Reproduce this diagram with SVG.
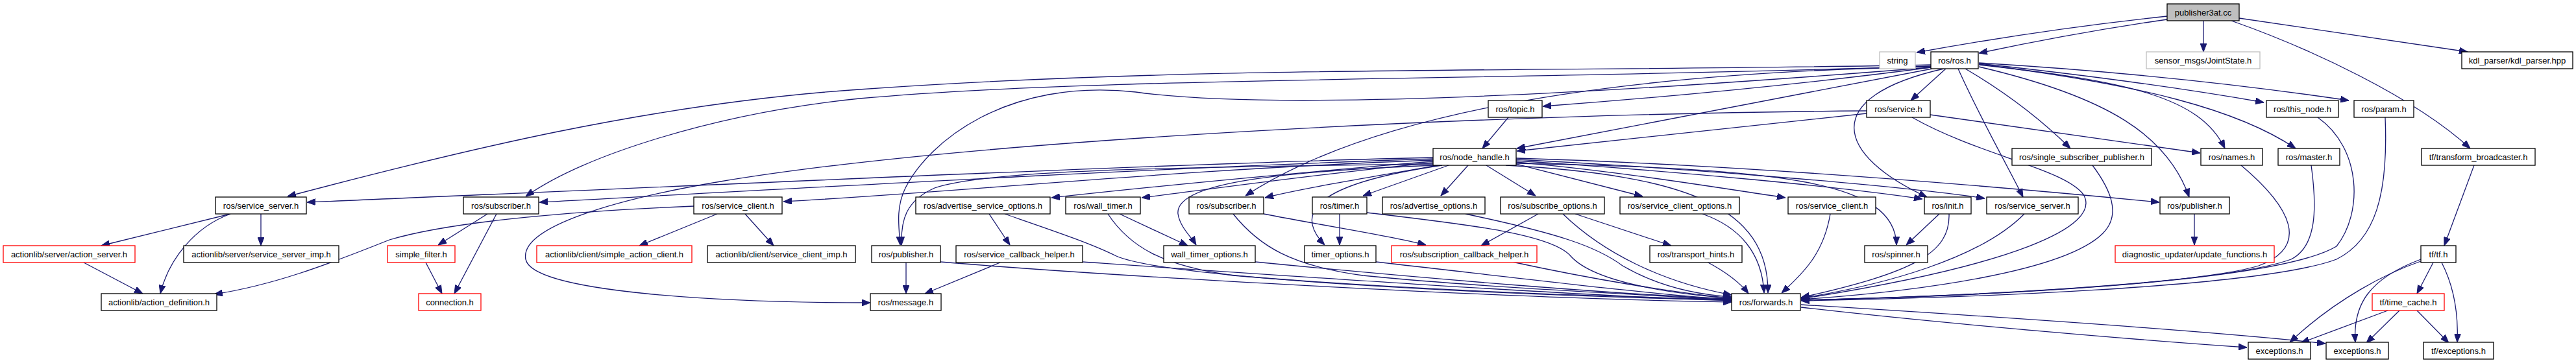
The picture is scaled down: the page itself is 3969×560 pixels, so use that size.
<svg xmlns="http://www.w3.org/2000/svg" width="3969" height="560" viewBox="0 0 3969 560">
<style>
rect{fill:#fff;stroke:#000;stroke-width:1.3}
rect.ext{stroke:#bfbfbf}
rect.trunc{stroke:#ff0000}
rect.root{fill:#bfbfbf}
text{font-family:"Liberation Sans",Arial,Helvetica,sans-serif;font-size:13px;text-anchor:middle;fill:#000}
#edges path{fill:none;stroke:#191970;stroke-width:1.3;marker-end:url(#arr)}
</style>
<defs>
<marker id="arr" markerUnits="userSpaceOnUse" markerWidth="13" markerHeight="10" viewBox="0 0 13 10" refX="13" refY="5" orient="auto">
<path d="M0,0 L13,5 L0,10 z" fill="#191970" stroke="#191970" stroke-width="1"/>
</marker>
</defs>
<rect x="0" y="0" width="3969" height="560" style="fill:#fff;stroke:none"/>
<g id="edges">
<path d="M3339,25 Q3150,45 2953,81"/>
<path d="M3339,30 Q3200,50 3049,82"/>
<path d="M3395,32 L3395,80"/>
<path d="M3450,28 L3802,80"/>
<path d="M3438,32 C3560,75 3720,150 3806,229"/>
<path d="M2975,104 Q2700,140 2377,164"/>
<path d="M2977,106 L2337,229"/>
<path d="M2998,106 L2944,155"/>
<path d="M2995,106 C2800,150 2830,240 2969,304"/>
<path d="M3017,106 C3050,180 3090,250 3117,304"/>
<path d="M3028,106 Q3120,160 3190,229"/>
<path d="M3049,103 C3250,150 3340,210 3373,304"/>
<path d="M3049,100 C3280,125 3390,150 3428,229"/>
<path d="M3049,99 C3300,130 3450,170 3537,229"/>
<path d="M3049,98 Q3300,125 3488,158"/>
<path d="M3049,97 Q3350,115 3619,155"/>
<path d="M2975,100 C2400,112 1850,100 1324,138 C1000,160 700,235 443,303"/>
<path d="M2975,102 C2300,125 1700,118 1324,152 C1100,175 900,240 810,303"/>
<path d="M2975,104 C2400,150 1950,170 1750,142 C1550,120 1430,220 1395,290 C1380,320 1385,350 1387,378"/>
<path d="M2975,103 C2600,110 2150,150 1919,302"/>
<path d="M2876,175 L2337,233"/>
<path d="M2876,171 C2300,175 1500,215 1110,280 C950,307 800,350 810,400 C820,450 1100,467 1341,467"/>
<path d="M2974,177 L3390,236"/>
<path d="M2946,181 C3050,240 3180,260 3210,300 C3240,350 3100,410 2775,461"/>
<path d="M3224,255 C3250,290 3270,330 3240,360 C3180,420 2950,450 2775,462"/>
<path d="M2324,181 L2284,229"/>
<path d="M2208,243 C1800,252 1000,290 473,312"/>
<path d="M2208,245 C1800,258 1200,292 831,312"/>
<path d="M2208,247 C1800,262 1500,295 1207,311"/>
<path d="M2208,249 C2050,262 1800,285 1620,305"/>
<path d="M2208,251 C2050,266 1880,290 1759,305"/>
<path d="M2210,253 C1800,258 1520,262 1440,290 C1395,310 1388,340 1389,378"/>
<path d="M2212,255 C1950,265 1810,285 1815,330 C1818,350 1835,365 1843,378"/>
<path d="M2216,255 C2100,275 2000,292 1949,305"/>
<path d="M2222,255 C2050,280 1985,320 2041,378"/>
<path d="M2232,255 L2100,302"/>
<path d="M2262,255 L2220,302"/>
<path d="M2290,255 L2366,302"/>
<path d="M2336,253 L2531,303"/>
<path d="M2336,250 C2500,265 2650,290 2751,305"/>
<path d="M2336,248 C2600,265 2850,290 2962,307"/>
<path d="M2336,246 C2650,262 2950,290 3058,306"/>
<path d="M2336,244 C2700,255 3100,290 3327,312"/>
<path d="M2336,252 C2750,260 2920,280 2922,378"/>
<path d="M2320,255 C2600,270 2725,320 2724,452"/>
<path d="M355,330 L156,379"/>
<path d="M402,330 L402,379"/>
<path d="M355,330 C300,350 260,400 247,453"/>
<path d="M129,405 L220,453"/>
<path d="M1069,318 C900,325 700,340 600,370 C500,410 420,440 330,454"/>
<path d="M1105,330 L985,379"/>
<path d="M1148,330 L1192,379"/>
<path d="M751,330 L675,378"/>
<path d="M765,330 L700,453"/>
<path d="M656,405 L681,453"/>
<path d="M1524,330 L1556,378"/>
<path d="M1548,330 C1620,355 1680,375 1720,395 C1800,430 2300,455 2668,463"/>
<path d="M1541,405 L1425,453"/>
<path d="M1668,404 C1900,420 2400,455 2668,464"/>
<path d="M1396,405 L1396,453"/>
<path d="M1449,404 C1700,425 2300,460 2668,466"/>
<path d="M1725,330 L1830,379"/>
<path d="M1707,330 C1740,380 1790,410 1900,425 C2200,450 2500,458 2668,462"/>
<path d="M1934,404 C2200,430 2500,455 2668,461"/>
<path d="M1900,330 C1940,380 1990,410 2100,425 C2300,445 2550,455 2668,463"/>
<path d="M1947,330 C2050,350 2150,365 2197,378"/>
<path d="M2064,330 L2064,378"/>
<path d="M2106,328 C2250,345 2390,360 2420,395 C2460,440 2600,455 2668,460"/>
<path d="M2120,404 C2350,430 2550,455 2668,462"/>
<path d="M2258,330 C2400,360 2460,380 2500,410 C2560,445 2620,455 2668,458"/>
<path d="M2370,330 L2282,379"/>
<path d="M2427,330 L2575,379"/>
<path d="M2408,330 C2470,390 2560,435 2668,455"/>
<path d="M2330,404 C2450,430 2580,452 2668,460"/>
<path d="M2623,330 C2680,350 2715,390 2718,452"/>
<path d="M2630,404 C2660,420 2680,435 2694,453"/>
<path d="M2820,330 C2810,390 2780,420 2745,452"/>
<path d="M2988,330 L2937,378"/>
<path d="M3003,330 C3005,390 2950,420 2775,459"/>
<path d="M3119,330 C3050,400 2900,440 2775,460"/>
<path d="M3571,181 C3640,230 3640,330 3600,380 C3500,440 3000,458 2775,463"/>
<path d="M3675,181 C3680,300 3660,370 3600,400 C3480,445 3000,460 2775,464"/>
<path d="M3561,255 C3570,320 3570,380 3530,400 C3420,440 3000,458 2775,463"/>
<path d="M3453,255 C3530,320 3560,380 3480,410 C3380,440 3000,458 2775,463"/>
<path d="M2775,474 C3000,500 3300,525 3462,536"/>
<path d="M2775,470 C3100,490 3400,510 3583,530"/>
<path d="M3381,330 L3381,378"/>
<path d="M3812,255 L3766,379"/>
<path d="M3730,403 C3680,420 3600,460 3528,528"/>
<path d="M3730,400 C3650,430 3625,470 3629,528"/>
<path d="M3749,405 L3724,453"/>
<path d="M3762,405 C3780,440 3788,480 3786,528"/>
<path d="M3679,479 L3545,529"/>
<path d="M3697,479 L3646,529"/>
<path d="M3724,479 L3773,529"/>
</g>
<g id="n_root"><rect class="root" x="3339" y="6" width="111" height="26"/><text x="3394.5" y="23.5">publisher3at.cc</text></g>
<g id="n_string"><rect class="ext" x="2896" y="80" width="55" height="26"/><text x="2923.5" y="97.5">string</text></g>
<g id="n_ros"><rect x="2975" y="80" width="73" height="26"/><text x="3011.5" y="97.5">ros/ros.h</text></g>
<g id="n_joint"><rect class="ext" x="3307" y="80" width="175" height="26"/><text x="3394.5" y="97.5">sensor_msgs/JointState.h</text></g>
<g id="n_kdl"><rect x="3793" y="80" width="171" height="26"/><text x="3878.5" y="97.5">kdl_parser/kdl_parser.hpp</text></g>
<g id="n_topic"><rect x="2293" y="155" width="83" height="26"/><text x="2334.5" y="172.5">ros/topic.h</text></g>
<g id="n_service"><rect x="2876" y="155" width="98" height="26"/><text x="2925" y="172.5">ros/service.h</text></g>
<g id="n_thisnode"><rect x="3492" y="155" width="111" height="26"/><text x="3547.5" y="172.5">ros/this_node.h</text></g>
<g id="n_param"><rect x="3627" y="155" width="92" height="26"/><text x="3673" y="172.5">ros/param.h</text></g>
<g id="n_nodehandle"><rect x="2208" y="229" width="128" height="26"/><text x="2272" y="246.5">ros/node_handle.h</text></g>
<g id="n_ssp"><rect x="3100" y="229" width="215" height="26"/><text x="3207.5" y="246.5">ros/single_subscriber_publisher.h</text></g>
<g id="n_names"><rect x="3391" y="229" width="95" height="26"/><text x="3438.5" y="246.5">ros/names.h</text></g>
<g id="n_master"><rect x="3510" y="229" width="95" height="26"/><text x="3557.5" y="246.5">ros/master.h</text></g>
<g id="n_tfbc"><rect x="3731" y="229" width="175" height="26"/><text x="3818.5" y="246.5">tf/transform_broadcaster.h</text></g>
<g id="n_ssrvL"><rect x="332" y="304" width="140" height="26"/><text x="402" y="321.5">ros/service_server.h</text></g>
<g id="n_subL"><rect x="714" y="304" width="116" height="26"/><text x="772" y="321.5">ros/subscriber.h</text></g>
<g id="n_sclL"><rect x="1069" y="304" width="136" height="26"/><text x="1137" y="321.5">ros/service_client.h</text></g>
<g id="n_aso"><rect x="1411" y="304" width="207" height="26"/><text x="1514.5" y="321.5">ros/advertise_service_options.h</text></g>
<g id="n_walltimer"><rect x="1642" y="304" width="115" height="26"/><text x="1699.5" y="321.5">ros/wall_timer.h</text></g>
<g id="n_subR"><rect x="1832" y="304" width="115" height="26"/><text x="1889.5" y="321.5">ros/subscriber.h</text></g>
<g id="n_timer"><rect x="2022" y="304" width="84" height="26"/><text x="2064" y="321.5">ros/timer.h</text></g>
<g id="n_ao"><rect x="2130" y="304" width="158" height="26"/><text x="2209" y="321.5">ros/advertise_options.h</text></g>
<g id="n_so"><rect x="2312" y="304" width="160" height="26"/><text x="2392" y="321.5">ros/subscribe_options.h</text></g>
<g id="n_sco"><rect x="2496" y="304" width="184" height="26"/><text x="2588" y="321.5">ros/service_client_options.h</text></g>
<g id="n_sclR"><rect x="2755" y="304" width="135" height="26"/><text x="2822.5" y="321.5">ros/service_client.h</text></g>
<g id="n_init"><rect x="2965" y="304" width="72" height="26"/><text x="3001" y="321.5">ros/init.h</text></g>
<g id="n_ssrvR"><rect x="3061" y="304" width="141" height="26"/><text x="3131.5" y="321.5">ros/service_server.h</text></g>
<g id="n_pubR"><rect x="3328" y="304" width="107" height="26"/><text x="3381.5" y="321.5">ros/publisher.h</text></g>
<g id="n_actsrv"><rect class="trunc" x="5" y="379" width="203" height="26"/><text x="106.5" y="396.5">actionlib/server/action_server.h</text></g>
<g id="n_ssimp"><rect x="283" y="379" width="239" height="26"/><text x="402.5" y="396.5">actionlib/server/service_server_imp.h</text></g>
<g id="n_sfilter"><rect class="trunc" x="597" y="379" width="104" height="26"/><text x="649" y="396.5">simple_filter.h</text></g>
<g id="n_sac"><rect class="trunc" x="827" y="379" width="239" height="26"/><text x="946.5" y="396.5">actionlib/client/simple_action_client.h</text></g>
<g id="n_scimp"><rect x="1090" y="379" width="228" height="26"/><text x="1204" y="396.5">actionlib/client/service_client_imp.h</text></g>
<g id="n_pubL"><rect x="1343" y="379" width="106" height="26"/><text x="1396" y="396.5">ros/publisher.h</text></g>
<g id="n_sch"><rect x="1473" y="379" width="195" height="26"/><text x="1570.5" y="396.5">ros/service_callback_helper.h</text></g>
<g id="n_wto"><rect x="1793" y="379" width="141" height="26"/><text x="1863.5" y="396.5">wall_timer_options.h</text></g>
<g id="n_to"><rect x="2010" y="379" width="110" height="26"/><text x="2065" y="396.5">timer_options.h</text></g>
<g id="n_subch"><rect class="trunc" x="2144" y="379" width="224" height="26"/><text x="2256" y="396.5">ros/subscription_callback_helper.h</text></g>
<g id="n_th"><rect x="2542" y="379" width="142" height="26"/><text x="2613" y="396.5">ros/transport_hints.h</text></g>
<g id="n_spinner"><rect x="2873" y="379" width="97" height="26"/><text x="2921.5" y="396.5">ros/spinner.h</text></g>
<g id="n_upd"><rect class="trunc" x="3259" y="379" width="245" height="26"/><text x="3381.5" y="396.5">diagnostic_updater/update_functions.h</text></g>
<g id="n_tf"><rect x="3730" y="379" width="54" height="26"/><text x="3757" y="396.5">tf/tf.h</text></g>
<g id="n_actdef"><rect x="156" y="453" width="178" height="26"/><text x="245" y="470.5">actionlib/action_definition.h</text></g>
<g id="n_conn"><rect class="trunc" x="645" y="453" width="96" height="26"/><text x="693" y="470.5">connection.h</text></g>
<g id="n_msg"><rect x="1341" y="453" width="109" height="26"/><text x="1395.5" y="470.5">ros/message.h</text></g>
<g id="n_fwd"><rect x="2668" y="453" width="106" height="26"/><text x="2721" y="470.5">ros/forwards.h</text></g>
<g id="n_tc"><rect class="trunc" x="3655" y="453" width="111" height="26"/><text x="3710.5" y="470.5">tf/time_cache.h</text></g>
<g id="n_exc1"><rect x="3464" y="528" width="96" height="26"/><text x="3512" y="545.5">exceptions.h</text></g>
<g id="n_exc2"><rect x="3584" y="528" width="96" height="26"/><text x="3632" y="545.5">exceptions.h</text></g>
<g id="n_tfexc"><rect x="3734" y="528" width="108" height="26"/><text x="3788" y="545.5">tf/exceptions.h</text></g>
</svg>
